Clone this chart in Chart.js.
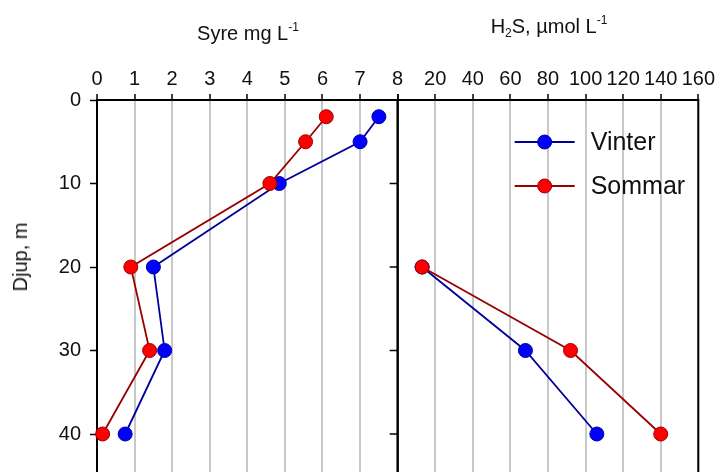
<!DOCTYPE html>
<html>
<head>
<meta charset="utf-8">
<title>Syre och H2S</title>
<script src="https://cdn.jsdelivr.net/npm/chart.js@4.4.1/dist/chart.umd.min.js"></script>
<style>
  html, body { margin: 0; padding: 0; background: #fff; overflow: hidden; }
  #wrap { position: relative; width: 718px; height: 472px; overflow: hidden;
          font-family: "Liberation Sans", Arial, sans-serif; color: #111; }
  #chart { position: absolute; left: 0; top: 0; }
  .axis-title { position: absolute; font-size: 20px; line-height: 24px; white-space: nowrap; text-align: center; }
  .axis-title sup { font-size: 12px; line-height: 0; vertical-align: 9px; }
  .axis-title sub { font-size: 12px; line-height: 0; vertical-align: -4px; }
  #title-o2 { left: 97px; width: 302px; top: 21px; }
  #title-h2s { left: 398px; width: 302px; top: 14px; }
  #title-depth { left: 20px; top: 257px; transform: translate(-50%, -50%) rotate(-90deg); }
</style>
</head>
<body>
<div id="wrap">
  <canvas id="chart" width="718" height="540"></canvas>
  <div class="axis-title" id="title-o2">Syre mg L<sup>-1</sup></div>
  <div class="axis-title" id="title-h2s">H<sub>2</sub>S, µmol L<sup>-1</sup></div>
  <div class="axis-title" id="title-depth">Djup, m</div>
</div>
<script>
const seasons = ['Vinter', 'Sommar'];

// oxygen profile (mg/L) by depth
const depthO2 = [2, 5, 10, 20, 30, 40];
const o2Vinter = [7.5, 7.0, 4.85, 1.5, 1.8, 0.75];
const o2Sommar = [6.1, 5.55, 4.6, 0.9, 1.4, 0.15];

// hydrogen sulphide (umol/L), only below 20 m
const depthH2S = [20, 30, 40];
const h2sVinter = [13, 68, 106];
const h2sSommar = [13, 92, 140];

const o2Ticks = [0, 1, 2, 3, 4, 5, 6, 7, 8];
const h2sTicks = [0, 20, 40, 60, 80, 100, 120, 140, 160];
const depthTicks = [0, 10, 20, 30, 40, 50];

const FONT = "'Liberation Sans', Arial, sans-serif";
const styles = {
  Vinter: { line: '#000099', fill: '#0000ff', order: 1 },
  Sommar: { line: '#990000', fill: '#ff0000', order: 0 }
};

function toPoints(values, depths) {
  return values.map((v, i) => ({ x: v, y: depths[i] }));
}

function series(name, values, depths, xAxisID) {
  const s = styles[name];
  return {
    label: name,
    data: toPoints(values, depths),
    xAxisID: xAxisID,
    yAxisID: 'y',
    order: s.order,
    borderColor: s.line,
    borderWidth: 1.8,
    pointRadius: 7,
    pointHoverRadius: 7,
    pointBackgroundColor: s.fill,
    pointBorderColor: s.line,
    pointBorderWidth: 1,
    tension: 0,
    clip: false
  };
}

function fixedTicks(values) {
  return scale => { scale.ticks = values.map(v => ({ value: v })); };
}

// both x axes share one stack on top; higher weight goes to the left
function topAxis(min, max, values, weight, hideFirst) {
  return {
    type: 'linear',
    position: 'top',
    stack: 'profiles',
    weight: weight,
    min: min,
    max: max,
    afterBuildTicks: fixedTicks(values),
    afterFit: scale => { scale.height = 100; },
    grid: { color: '#c8c8c8', lineWidth: 2, tickColor: '#000', tickLength: 6, tickWidth: 1.5 },
    border: { display: false },
    ticks: {
      color: '#111',
      font: { family: FONT, size: 20 },
      padding: 3,
      maxRotation: 0,
      autoSkip: false,
      callback: v => (hideFirst && v === min) ? '' : v
    }
  };
}

// black box around each panel, plus the depth ticks on the shared edge
const panelFrame = {
  id: 'panelFrame',
  beforeDatasetsDraw(chart) {
    const { ctx, chartArea } = chart;
    const y = chart.scales.y;
    ctx.save();
    ctx.strokeStyle = '#000';
    ctx.lineWidth = 2;
    ['x', 'x2'].forEach(id => {
      const s = chart.scales[id];
      ctx.strokeRect(s.left, chartArea.top, s.right - s.left, chartArea.bottom - chartArea.top);
    });
    const edge = chart.scales.x2.left;
    ctx.lineWidth = 1.5;
    y.ticks.forEach(t => {
      const py = y.getPixelForValue(t.value);
      ctx.beginPath();
      ctx.moveTo(edge - 8, py);
      ctx.lineTo(edge, py);
      ctx.stroke();
    });
    ctx.restore();
  }
};

// legend with line + marker, sits inside the H2S panel
const seasonLegend = {
  id: 'seasonLegend',
  afterDatasetsDraw(chart) {
    const { ctx } = chart;
    const left = chart.scales.x2.left + 117;
    const top = chart.chartArea.top + 42;
    ctx.save();
    seasons.forEach((name, i) => {
      const s = styles[name];
      const cy = top + i * 44;
      ctx.strokeStyle = s.line;
      ctx.lineWidth = 1.8;
      ctx.beginPath();
      ctx.moveTo(left, cy);
      ctx.lineTo(left + 60, cy);
      ctx.stroke();
      ctx.beginPath();
      ctx.arc(left + 30, cy, 7, 0, Math.PI * 2);
      ctx.fillStyle = s.fill;
      ctx.fill();
      ctx.lineWidth = 1;
      ctx.stroke();
      ctx.fillStyle = '#111';
      ctx.font = '25px ' + FONT;
      ctx.textAlign = 'left';
      ctx.textBaseline = 'middle';
      ctx.fillText(name, left + 76, cy + 1);
    });
    ctx.restore();
  }
};

new Chart(document.getElementById('chart'), {
  type: 'line',
  data: {
    datasets: [
      series('Vinter', o2Vinter, depthO2, 'x'),
      series('Sommar', o2Sommar, depthO2, 'x'),
      series('Vinter', h2sVinter, depthH2S, 'x2'),
      series('Sommar', h2sSommar, depthH2S, 'x2')
    ]
  },
  options: {
    responsive: false,
    animation: false,
    events: [],
    layout: { padding: { left: 0, top: 0, right: 18, bottom: 22.5 } },
    plugins: { legend: { display: false }, tooltip: { enabled: false } },
    scales: {
      x: topAxis(0, 8, o2Ticks, 1, false),
      x2: topAxis(0, 160, h2sTicks, 0, true),
      y: {
        type: 'linear',
        position: 'left',
        reverse: true,
        min: 0,
        max: 50,
        afterBuildTicks: fixedTicks(depthTicks),
        afterFit: scale => { scale.width = 97; },
        grid: { drawOnChartArea: false, color: '#000', tickColor: '#000', tickLength: 7, tickWidth: 1.5 },
        border: { display: false },
        ticks: { color: '#111', font: { family: FONT, size: 20 }, padding: 9 }
      }
    }
  },
  plugins: [panelFrame, seasonLegend]
});
</script>
</body>
</html>
